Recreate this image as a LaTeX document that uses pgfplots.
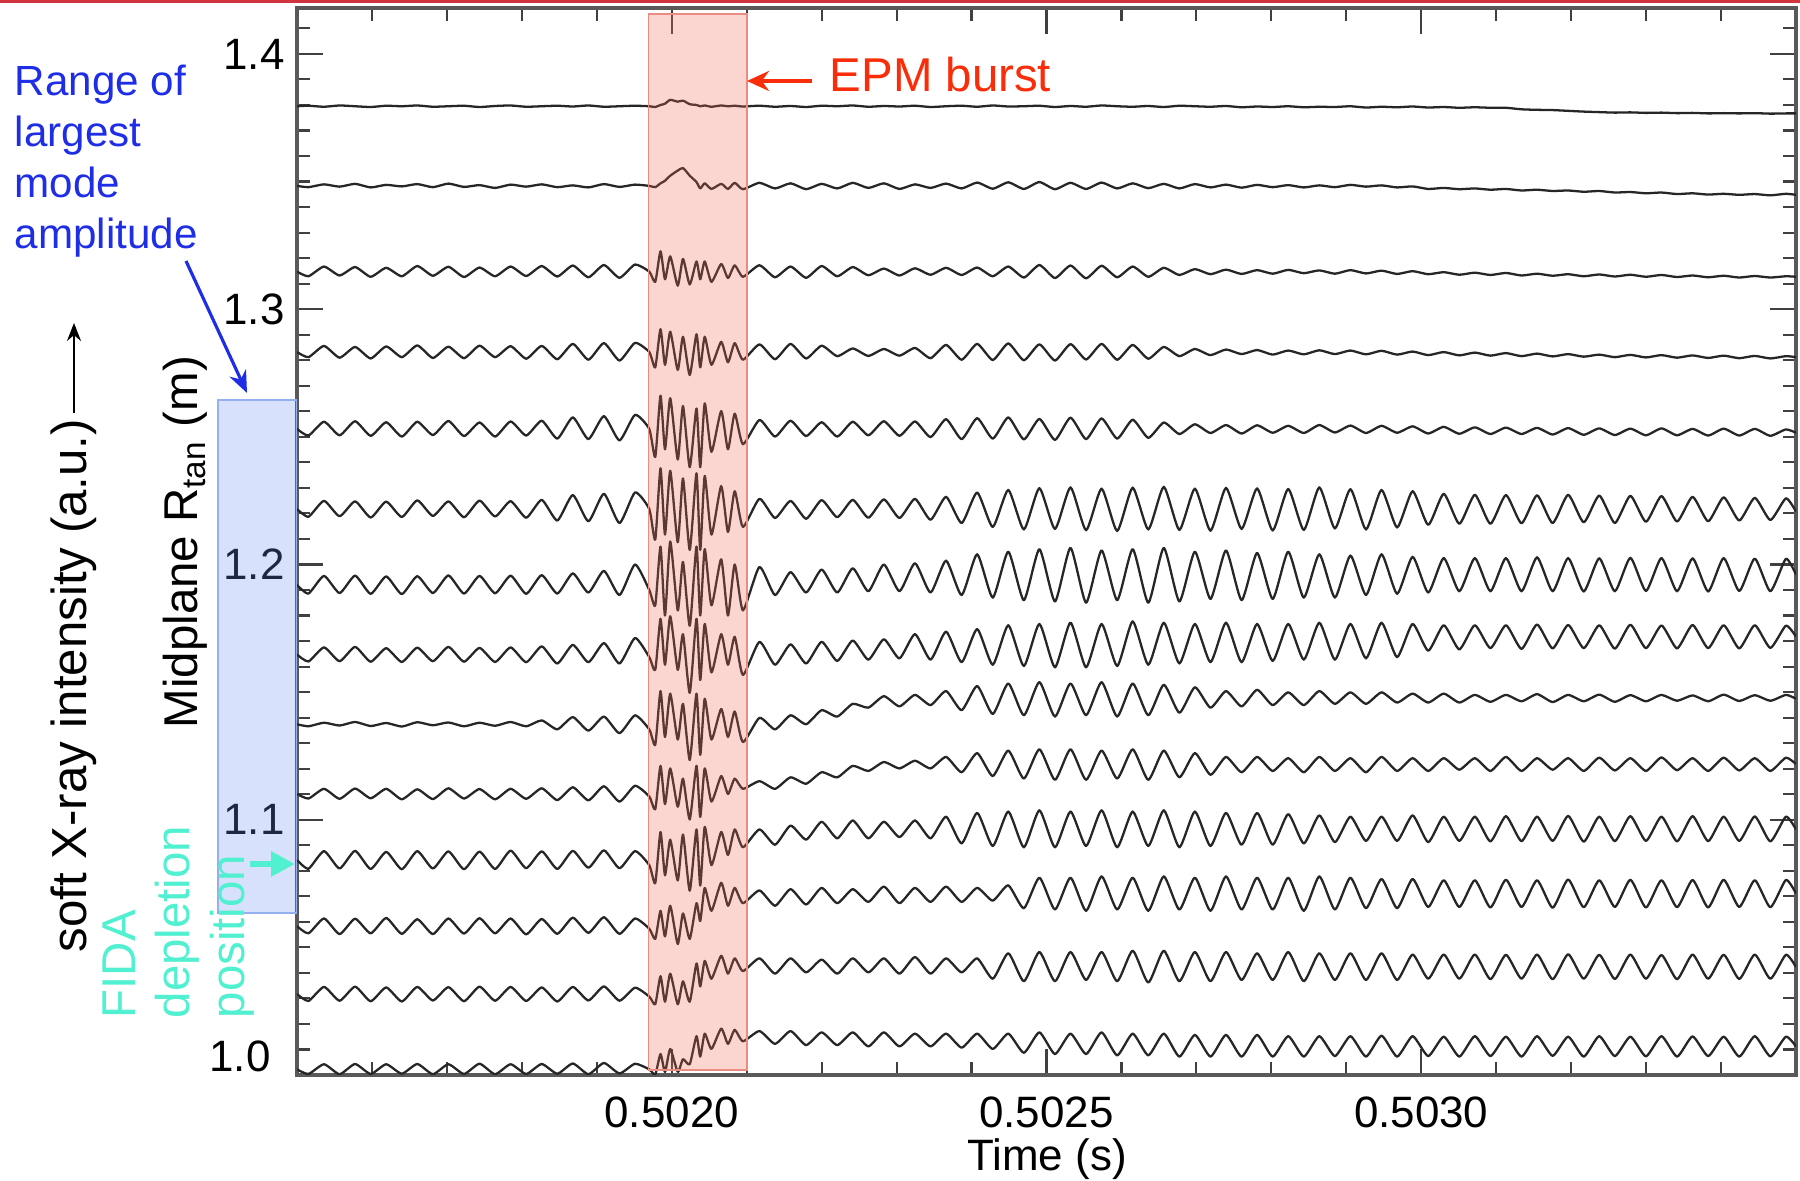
\documentclass[border=0pt]{standalone}
\usepackage{fontspec}
\setmainfont{Liberation Sans}
\usepackage{pgfplots}
\pgfplotsset{compat=1.18}
\usepackage{pgfplotstable}
\usetikzlibrary{arrows.meta}

\definecolor{burst}{RGB}{240,105,85}
\definecolor{burstedge}{RGB}{235,140,130}
\definecolor{rangefill}{RGB}{110,145,240}
\definecolor{rangeedge}{RGB}{150,175,240}
\definecolor{rangetext}{RGB}{30,45,230}
\definecolor{fida}{RGB}{80,240,208}
\definecolor{epm}{RGB}{250,45,10}
\definecolor{topbar}{RGB}{208,52,62}

\tikzset{trace/.style={black!85,line width=0.65pt,line join=round,smooth,tension=0.35}}

% t in microseconds after 0.5015 s; c1..c14 = channel signal in mm around its R_tan
\pgfplotstableread{
t c1 c2 c3 c4 c5 c6 c7 c8 c9 c10 c11 c12 c13 c14
0 0 0 0 0 0 0 0 0 0 0 0 0 0 0
15.3 0.2 -0.5 -1.8 -2 -2.6 -3 -3.4 -2.7 -0.8 -1.8 -3.4 -2.8 -2.7 -1.8
36 -0.2 0.6 2 2.4 2.8 3.2 3.5 2.8 0.6 2 3.5 3 2.8 2
56.8 0.3 -0.3 -1.5 -2.2 -2.5 -2.8 -3.2 -2.6 -0.5 -1.9 -3.3 -3.1 -2.6 -1.9
77.5 0 0.8 1.8 2 3 3 3.6 3 0.9 2.1 3.6 2.9 2.9 2.1
98.3 -0.3 -0.6 -2 -2.5 -2.7 -3.3 -3.5 -2.8 -0.7 -1.7 -3.5 -2.8 -2.8 -1.8
119 0.2 0.4 1.5 2.2 2.6 2.9 3.3 2.5 0.5 2 3.2 3.2 2.6 2
139.8 0 -0.2 -1.8 -2 -3 -3.1 -3.6 -2.9 -0.9 -2.1 -3.6 -3 -2.9 -1.7
160.5 0.3 0.7 2.2 2.6 2.8 3.4 3.4 2.7 0.8 1.8 3.5 2.7 2.8 2.1
181.3 -0.2 -0.5 -1.6 -2.3 -2.4 -2.7 -3.2 -2.6 -0.4 -2 -3.3 -3.1 -2.5 -1.9
202 0 0.9 1.9 2.1 3.1 3 3.7 3 0.7 2.2 3.4 3 2.7 2
222.8 0.2 -0.4 -2.1 -2.4 -2.8 -3.2 -3.4 -2.8 -0.8 -1.8 -3.6 -2.9 -2.8 -1.8
243.5 -0.3 0.3 1.6 2.5 2.5 3.3 3.5 2.6 0.6 1.9 3.3 3.1 2.9 2.2
264.3 0.1 -0.8 -1.8 -2 -3 -2.9 -3.3 -2.9 -0.6 -2.1 -3.5 -2.8 -2.6 -1.9
285 0.3 0.5 2 2.3 2.9 3.1 3.6 2.8 0.9 2 3.7 3 2.8 2
305.8 -0.2 -0.3 -1.7 -2.6 -2.6 -3.4 -3.5 -3 -0.8 -1.9 -3.2 -3.2 -2.7 -1.8
326.5 0 0.6 2.2 2.4 3.2 3.6 3.8 3.2 1.5 2.2 3.4 2.8 2.6 2.1
347.3 0.2 -0.5 -1.9 -2.8 -3.8 -4.5 -3.4 -3.5 -2 -2.4 -3.5 -3 -2.9 -1.7
368 -0.1 0.2 2.4 3.2 4.5 5.5 4.5 3.8 2.8 2.6 3.6 3.3 2.8 2.3
388.8 0.3 -0.6 -2.2 -3 -4 -4.8 -3 -3 -2.5 -2.5 -3 -2.6 -2.5 -1.9
409.5 -0.2 0.7 2.6 3.5 5 6 5.5 4.5 3 3 3.8 3.5 3 2.5
430.3 0 -0.4 -2.4 -3.3 -4.5 -5.5 -4 -3.5 -3.5 -3 -3.2 -3 -2.6 -1.6
451 0.2 0.5 2.8 3.6 5.5 6.5 8 6.5 3.5 3.2 3.5 3 2.5 2.2
470 0 0 0 0 0 0 -2 -1 -2 -1 -2 -1 -1 0
478 -0.3 -0.5 -4 -6 -11 -12 -8 -6 -8 -6 -9 -5 -4 -2
485 0.5 1 8 9 13 16 15 14 13 11 11 6 7 6
491 1 2 -3 -5 -8 -10 -12 -4 -5 -4 -6 -4 -3 -1
498 2.5 4 6 8 12 15 17 15 12 10 8 8 8 8
508 1.8 6 -5.5 -7 -12 -13 -10 -6 -6 -5 -8 -7 -4 -1
515 2.2 7 5 6 9 12 9 8 8 6 10 5 5 4
524 0.8 4 -5 -9 -15 -16 -16 -15 -14 -10 -12 -5 -3 2
533 0.5 1.5 4 7 8 14 15 14 12 11 12 9 12 13
538 0 -1 -3 -6 -15 -16 -12 -10 -12 -9 -10 2 3 5
544 0.3 1 4 6 10 13 14 12 10 10 13 15 13 14
553 -0.2 -1.2 -4 -5 -9 -10 -8 -7 -6 -3 -2 6 6 8
566 0.3 0.8 3 4 7 9 10 8 6 7 11 17 15 16
575 0 -1.2 -2.5 -4 -8 -9 -12 -4 -5 0 2 8 8 10
584 0.2 1.2 2.5 3.5 6 7 8 7 5 6 12 15 14 15.5
595 -0.1 -1.3 -2 -3 -6 -7 -10 -8 -7 2 5 9 9 11
617 0.2 1.2 2.5 3 3.5 4 7 5 2.5 5 12 14 14 15
637.8 -0.2 -1 -2.2 -2.8 -3 -3.5 -4 -4 -2 2 6 8 8 10
658.5 0.1 1 2 3.2 3.2 3.2 5 4 3.5 6.5 13.5 14.5 14 15
679.3 -0.3 -1.3 -2.4 -2.5 -2.8 -3.8 -3 -3.5 0 4 8 8.5 8.5 9.5
700 0.2 0.8 2.2 2.5 2.6 3.5 6 5 5.5 8.5 15 15 13.5 14.5
720.8 0 -1 -1.8 -1.6 -3 -3.2 -3 -2.5 3 6.5 8.5 9 8 9.5
741.5 0.3 1.2 1.8 1.4 2.8 3.6 6.5 5.5 8 11 15.5 14.5 14 14.5
762.3 -0.2 -0.8 -1.4 -1.5 -2.5 -3.4 -2.5 -2 6.5 9 8.5 9.5 8.5 9
783 0.1 1 1.2 1.2 3 3.8 8 6 11 12.5 15 15.5 14 14.5
803.8 -0.1 -1.2 -1.5 -1.4 -2.7 -3.5 -2.5 -1.5 7 10 9 9 8 9
824.5 0.2 0.6 1.3 1.6 2.9 4 8.5 8 11.5 13 15.5 15 14.5 14
845.3 -0.3 -0.8 -1.2 -2.4 -3.2 -4.2 -3 -2 7.5 10 8.5 9.5 8 9
866 0 0.9 1.5 2.8 3.8 4.8 9.5 9 13 14.5 17 15.5 14 14
886.8 0.2 -1 -1.3 -3 -4 -5.5 -4 -3 5.5 8.5 6.5 9.5 8.5 8.5
907.5 -0.2 1.3 1.6 3.2 4.2 6.5 12 10 15 16 18.5 15 14 14
928.3 0.3 -1.1 -1.8 -3.1 -3.8 -7 -5 -4 4 7 5.5 10 6 8
949 -0.1 1.4 2 3.4 4.5 7.5 13 11.5 16 17 19 16 16 14
969.8 0 -1.2 -2.3 -3.2 -4.1 -8 -6 -4.5 3.5 6 5 7 5 6.5
990.5 0.2 1.5 2.6 3 3.9 8.2 14 12 16.5 17.5 19.5 19 16.5 14.5
1011.3 -0.3 -1.3 -2.5 -3.3 -4.3 -7.8 -6.5 -5 3 5.5 5 6.5 5 6
1032 0.1 1.2 2.4 3.1 4.4 8.5 14.5 12.5 16 17.5 19 19 16.5 14
1052.8 -0.2 -1.2 -2.6 -2.9 -4 -8.3 -7 -5 3.5 5.5 5.5 6 5.5 6
1073.5 0.3 1.3 2.3 3.2 4.1 8 13.5 12 16.5 17 19.5 19.5 16.5 14.5
1094.3 0 -1 -2.2 -3 -3.8 -8.6 -6 -4.5 3 6 5 6.5 5 5.5
1115 -0.2 1 2 2.8 3.6 8.4 14 13 16 17.5 19 19 17 14
1135.8 0.1 -0.9 -2 -2.6 -3.5 -8 -7 -4 3.5 5.5 5.5 6 4.5 5.5
1156.5 -0.3 0.8 1.5 2 2.5 8.7 14.5 12.5 15.5 17 19.5 19.5 17 14
1177.3 0.2 -1 -1.3 -1.6 -2 -8.2 -6.5 -3.5 4.5 6.5 5 6.5 5 5
1198 0 0.7 1 1.2 1.8 8 13 12 14.5 16 19 19 16.5 13.5
1218.8 -0.2 -0.6 -1 -1.2 -1.6 -8.5 -5.5 -3 6.5 7.5 5.5 6 5 5
1239.5 0.1 0.5 0.8 1 1.5 8.3 13.5 12.5 13 14.5 18.5 19.5 16.5 13.5
1260.3 -0.4 -0.7 -0.9 -0.8 -1.8 -7.8 -6 -3 7 8.5 6 6.5 5.5 5
1281 -0.1 0.4 0.6 0.8 1.4 8.1 12.5 12 13.5 14.5 18.5 19 16 13.5
1301.8 -0.3 -0.5 -0.8 -1 -1.5 -8.4 -5.5 -2.5 7.5 9 6 6.5 5.5 5
1322.5 0 0.3 0.7 0.6 1.2 7.9 13 12 12.5 14 18 19 16.5 13
1343.3 -0.4 -0.6 -0.6 -0.9 -1.6 -8.2 -5 -2 7.5 8.5 6.5 6 5 5
1364 -0.2 0.2 0.5 0.7 1.5 8.5 12 12.5 13 14.5 17.5 19.5 16 13
1384.8 -0.3 -0.5 -0.8 -0.8 -1.4 -7.6 -5 -2 8 9 7 6.5 5.5 5.2
1405.5 0 0.4 0.6 0.6 1.3 7.8 11.5 12 12.5 14 17 19 16 13
1426.3 -0.5 -0.3 -0.7 -0.9 -1.6 -8 -4 -1.5 8 8.5 7.5 7 5.5 5
1447 -0.2 0.2 0.4 0.5 1.2 7.5 12 12.5 12.5 14.5 17 18.5 16 13.2
1467.8 -0.4 -0.6 -0.9 -1 -1.5 -7.2 -3.5 -1 8.5 9 7.5 7 5.5 5
1488.5 -0.1 -0.2 0.2 0.2 1 7 11 12 12 14 17.5 18.5 15.5 13
1509.3 -0.5 -1.2 -1 -1.2 -1.8 -6.2 -3 1.5 8.5 9 7 7.5 6 5.2
1530 -0.3 -0.8 -0.2 0 0.8 6 10.5 11.5 12 14 17 18 15.5 12.8
1550.8 -0.6 -1.3 -1.2 -1.3 -1.9 -5.8 -2.5 2 8.5 9.5 7.5 7.5 6 5
1571.5 -0.4 -1 -0.4 -0.2 0.6 5.6 10.5 11.5 11.5 14 17 18 15.5 13
1592.3 -0.6 -1.5 -1.3 -1.4 -2 -5.8 -2.5 2.5 8.8 9 7.3 7.3 5.8 5.2
1613 -0.6 -1.2 -0.5 -0.4 0.5 5.5 10.5 11.5 11.5 14.5 17.2 18.2 15.4 12.8
1633.8 -1.2 -1.8 -1.5 -1.6 -2 -5.6 -2.5 2.2 9 9 7.4 7.5 6 5
1654.5 -1.4 -1.5 -0.8 -0.6 0.4 5.4 10.8 11.8 11.8 14 17 18 15.5 13
1675.3 -1.5 -2 -1.6 -1.7 -2.2 -5.5 -2.5 2.4 8.7 9.5 7.5 7.2 5.8 5.3
1696 -1.8 -1.8 -1 -0.8 0.3 5.6 10.5 11.6 11.5 14 17.3 18.3 15.6 12.8
1716.8 -2.1 -2.3 -1.8 -1.8 -2.3 -5.2 -2.6 2.5 9 9 7.2 7.4 6 5
1737.5 -2.3 -2 -1.1 -1 0.2 5.3 10.4 11.5 11.6 14.2 17 18 15.4 13
1758.3 -2.5 -2.6 -1.9 -2 -2.4 -5.5 -2.5 2.3 8.8 9.2 7.4 7.5 5.9 5.2
1779 -2.4 -2.4 -1.2 -1.1 0.1 5.2 10.6 11.7 11.4 14 17.2 18.2 15.5 12.8
1799.8 -2.6 -2.9 -2 -2.1 -2.5 -5 -2.4 2.5 9 9 7.5 7.3 6 5.1
1820.5 -2.5 -2.6 -1.3 -1.2 0.2 5.1 10.5 11.4 11.5 14.3 17 18 15.3 13
1841.3 -2.7 -3.2 -2.1 -2.2 -2.5 -4.9 -2.5 2.4 9.2 9.3 7.3 7.4 5.8 5
1862 -2.6 -2.9 -1.5 -1.3 0 4.8 10.4 11.6 11.3 14 17.2 18.1 15.5 12.9
1882.8 -2.8 -3.4 -2.2 -2.3 -2.6 -4.8 -2.6 2.5 9 9 7.4 7.3 6 5.2
1903.5 -2.7 -3.1 -1.6 -1.4 0.1 4.6 10.5 11.5 11.6 14.2 17 18.2 15.4 12.8
1924.3 -2.8 -3.5 -2.3 -2.4 -2.6 -4.5 -2.4 2.4 9.1 9.2 7.5 7.5 5.9 5
1945 -2.7 -3.2 -1.7 -1.5 0 4.4 10.3 11.5 11.4 14 17.1 18 15.5 13
1965.8 -2.9 -3.7 -2.3 -2.5 -2.7 -4.3 -2.5 2.6 9.2 9 7.3 7.4 6 5.1
1986.5 -2.8 -3.1 -1.8 -1.6 -0.2 4.2 10.2 11.3 11.5 14.2 17 18.1 15.4 12.8
2000 -2.8 -3.5 -2 -2 -1.5 -1 4 7 10 11.7 12 12.8 10.6 9
}\sxr

\begin{document}
\begin{tikzpicture}
\fill[topbar] (0,11.78) rectangle (18,11.81);
\begin{axis}[
  at={(2.97cm,1.06cm)}, anchor=south west,
  scale only axis, width=14.99cm, height=10.67cm,
  xmin=0, xmax=2000, ymin=1.0, ymax=1.418,
  xtick={500,1000,1500}, xticklabels={0.5020,0.5025,0.5030},
  minor xtick={100,200,...,1900},
  ytick={1.0,1.1,1.2,1.3,1.4}, yticklabels={,1.1,1.2,1.3,1.4},
  minor ytick={1.01,1.02,...,1.41},
  major tick length=0.26cm, minor tick length=0.13cm,
  tick style={black!75,line width=0.6pt},
  axis line style={black!65,line width=1pt},
  tick label style={font=\fontsize{12.5}{15}\selectfont},
  xticklabel style={yshift=-0.09cm},
]
\addplot[trace] table[x=t, y expr=1.3795+\thisrow{c1}/1000] {\sxr};
\addplot[trace] table[x=t, y expr=1.3483+\thisrow{c2}/1000] {\sxr};
\addplot[trace] table[x=t, y expr=1.3147+\thisrow{c3}/1000] {\sxr};
\addplot[trace] table[x=t, y expr=1.2832+\thisrow{c4}/1000] {\sxr};
\addplot[trace] table[x=t, y expr=1.2531+\thisrow{c5}/1000] {\sxr};
\addplot[trace] table[x=t, y expr=1.2217+\thisrow{c6}/1000] {\sxr};
\addplot[trace] table[x=t, y expr=1.1920+\thisrow{c7}/1000] {\sxr};
\addplot[trace] table[x=t, y expr=1.1647+\thisrow{c8}/1000] {\sxr};
\addplot[trace] table[x=t, y expr=1.1374+\thisrow{c9}/1000] {\sxr};
\addplot[trace] table[x=t, y expr=1.1101+\thisrow{c10}/1000] {\sxr};
\addplot[trace] table[x=t, y expr=1.0842+\thisrow{c11}/1000] {\sxr};
\addplot[trace] table[x=t, y expr=1.0583+\thisrow{c12}/1000] {\sxr};
\addplot[trace] table[x=t, y expr=1.0317+\thisrow{c13}/1000] {\sxr};
\addplot[trace] table[x=t, y expr=1.0022+\thisrow{c14}/1000] {\sxr};
% EPM burst window
\fill[burst,fill opacity=0.27] (axis cs:469,1.002) rectangle (axis cs:600,1.4155);
\draw[burstedge,line width=0.5pt] (axis cs:469,1.002) rectangle (axis cs:600,1.4155);
\end{axis}

% labels around the axis
\node[anchor=east,font=\fontsize{12.5}{15}\selectfont] at (2.83,1.25) {1.0};
\node[anchor=base,font=\fontsize{12.5}{15}\selectfont] at (10.47,0.1) {Time (s)};

\node[anchor=base west,inner sep=0,text=epm,font=\fontsize{13.5}{16}\selectfont] at (8.29,10.89) {EPM burst};
\draw[epm,line width=1pt,-{Stealth[length=2.2mm,width=2mm]}] (8.12,11.0) -- (7.47,11.0);

\begin{scope}[every node/.style={anchor=base west,inner sep=0,text=rangetext,font=\fontsize{12}{14}\selectfont}]
\node at (0.14,10.85) {Range of};
\node at (0.14,10.34) {largest};
\node at (0.14,9.83) {mode};
\node at (0.14,9.32) {amplitude};
\end{scope}
\draw[rangetext,line width=0.9pt,-{Stealth[length=2.2mm,width=1.8mm]}] (1.86,9.2) -- (2.47,7.88);
\fill[rangefill,fill opacity=0.27] (2.18,2.68) rectangle (2.965,7.81);
\draw[rangeedge,line width=0.5pt] (2.18,2.68) rectangle (2.965,7.81);

\node[rotate=90,anchor=base west,inner sep=0,font=\fontsize{14}{17}\selectfont] at (0.87,2.28) {soft X-ray intensity (a.u.)};
\draw[line width=0.5pt,-{Stealth[length=1.8mm,width=1.4mm]}] (0.74,7.68) -- (0.74,8.58);
\node[rotate=90,anchor=base west,inner sep=0,font=\fontsize{13.5}{16}\selectfont] at (1.98,4.52) {Midplane R\textsubscript{tan} (m)};

\begin{scope}[every node/.style={rotate=90,anchor=base west,inner sep=0,text=fida,font=\fontsize{13.5}{16}\selectfont}]
\node at (1.35,1.62) {FIDA};
\node at (1.90,1.62) {depletion};
\node at (2.45,1.62) {position};
\end{scope}
\draw[fida,line width=1.8pt,-{Triangle[length=2.4mm,width=2.4mm]}] (2.50,3.17) -- (2.95,3.17);

\pgfresetboundingbox
\path (0,0) rectangle (18,11.81);
\end{tikzpicture}
\end{document}
